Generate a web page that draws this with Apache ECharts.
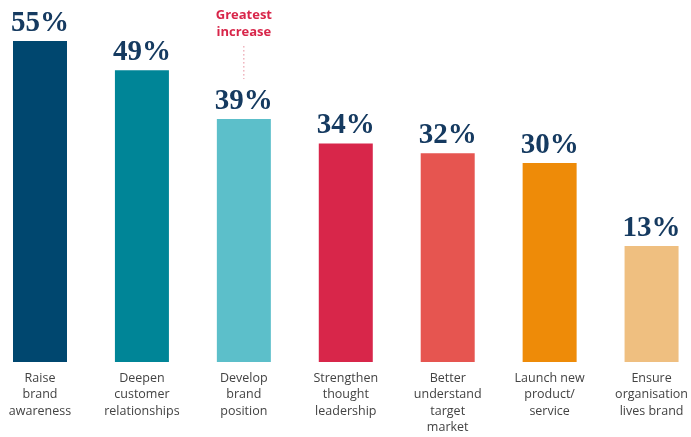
<!DOCTYPE html>
<html>
<head>
<meta charset="utf-8">
<script src="https://cdn.jsdelivr.net/npm/echarts@6/dist/echarts.min.js"></script>
<style>
  html, body { margin: 0; padding: 0; background: #ffffff; }
  #chart { width: 691px; height: 437px; }
</style>
</head>
<body>
<div id="chart"></div>
<script>
// Share of respondents naming each objective
const categories = [
  'Raise\nbrand\nawareness',
  'Deepen\ncustomer\nrelationships',
  'Develop\nbrand\nposition',
  'Strengthen\nthought\nleadership',
  'Better\nunderstand\ntarget\nmarket',
  'Launch new\nproduct/\nservice',
  'Ensure\norganisation\nlives brand'
];
const values = [55, 49, 39, 34, 32, 30, 13];
const barColors = ['#00476F', '#008597', '#5CBFCA', '#D8264A', '#E65550', '#EE8B08', '#EFBF80'];
const highlightIndex = 2;
const highlightText = ['Greatest', 'increase'];

const chart = echarts.init(document.getElementById('chart'));

chart.setOption({
  animation: false,
  grid: { left: 40, right: 38, top: 41, bottom: 75 },
  xAxis: {
    type: 'category',
    data: categories,
    boundaryGap: false,
    axisLine: { show: false },
    axisTick: { show: false },
    axisLabel: {
      interval: 0,
      margin: 8,
      color: '#434343',
      fontFamily: 'Open Sans',
      fontSize: 12.5,
      lineHeight: 16.5
    }
  },
  yAxis: {
    type: 'value',
    min: -10.8,
    max: 55,
    startValue: -10.8,
    show: false,
    splitLine: { show: false }
  },
  series: [{
    type: 'bar',
    clip: false,
    barWidth: 54,
    data: values.map((v, i) => ({ value: v, itemStyle: { color: barColors[i] } })),
    label: {
      show: true,
      position: 'top',
      distance: 3,
      formatter: p => p.value + '%',
      color: '#153A60',
      fontFamily: 'Liberation Serif',
      fontWeight: 'bold',
      fontSize: 29
    }
  }]
});

// "Greatest increase" note with dotted leader above the highlighted bar
const barTop = chart.convertToPixel({ seriesIndex: 0 }, [highlightIndex, values[highlightIndex]]);
chart.setOption({
  graphic: [
    {
      type: 'line',
      shape: { x1: barTop[0], y1: barTop[1] - 73, x2: barTop[0], y2: barTop[1] - 40 },
      style: { stroke: '#E58C9A', lineWidth: 1, lineDash: [1.5, 2.5] }
    },
    {
      type: 'text',
      x: barTop[0],
      y: barTop[1] - 78,
      style: {
        text: highlightText.join('\n'),
        fill: '#D8264A',
        font: 'bold 13px "Open Sans"',
        lineHeight: 17,
        align: 'center',
        verticalAlign: 'bottom'
      }
    }
  ]
});
</script>
</body>
</html>
